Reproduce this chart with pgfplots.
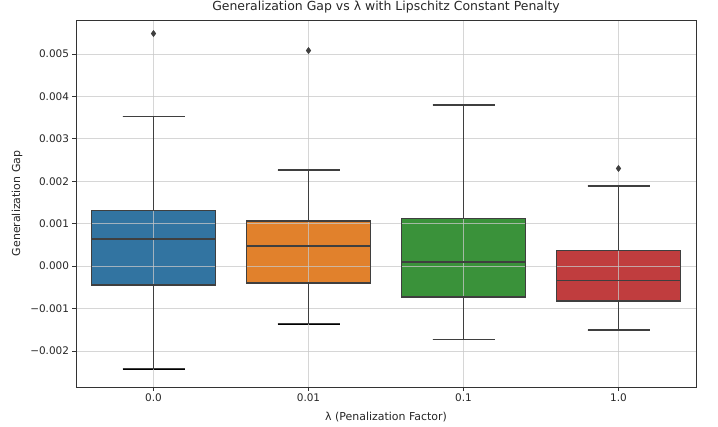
\documentclass[border=0pt]{standalone}
\usepackage{fontspec}
\setmainfont{DejaVu Sans}
\usepackage{pgfplots}
\pgfplotsset{compat=1.18}
\usepgfplotslibrary{statistics}

\definecolor{sbblue}{HTML}{3274A1}
\definecolor{sborange}{HTML}{E1812C}
\definecolor{sbgreen}{HTML}{3A923A}
\definecolor{sbred}{HTML}{C03D3E}
\definecolor{edge}{HTML}{3F3F3F}
\definecolor{gridc}{HTML}{C8C8C8}

% box statistics, in units of 1e-3
\pgfplotsset{
  bxA/.style={boxplot prepared={draw position=0,
    lower whisker=-2.42, lower quartile=-0.447,
    median=0.635, upper quartile=1.31, upper whisker=3.53}},
  bxB/.style={boxplot prepared={draw position=1,
    lower whisker=-1.36, lower quartile=-0.40,
    median=0.47, upper quartile=1.06, upper whisker=2.26}},
  bxC/.style={boxplot prepared={draw position=2,
    lower whisker=-1.73, lower quartile=-0.73,
    median=0.10, upper quartile=1.12, upper whisker=3.80}},
  bxD/.style={boxplot prepared={draw position=3,
    lower whisker=-1.51, lower quartile=-0.82,
    median=-0.34, upper quartile=0.37, upper whisker=1.89}},
  % fill below the grid, lines above it
  fillpass/.style={on layer=axis background, fill=#1, draw=none},
  linepass/.style={draw=edge, fill=none, line width=1.4bp,
    mark=diamond*, mark size=3bp, mark options={fill=edge, draw=edge, solid, line width=0.6bp}},
}

\begin{document}
\begin{tikzpicture}
\begin{axis}[
    set layers,
    at={(0,0)}, anchor=south west,
    scale only axis,
    width=620bp, height=367bp,
    xmin=-0.5, xmax=3.5,
    ymin=-2.85, ymax=5.80,
    xtick={0,1,2,3},
    xticklabels={0.0,0.01,0.1,1.0},
    ytick={-2,-1,0,1,2,3,4,5},
    yticklabels={−0.002,−0.001,0.000,0.001,0.002,0.003,0.004,0.005},
    tick label style={font=\fontsize{10.5}{12}\selectfont, text=black!85},
    label style={font=\fontsize{11}{13}\selectfont, text=black!85},
    xlabel={λ (Penalization Factor)},
    ylabel={Generalization Gap},
    title={Generalization Gap vs λ with Lipschitz Constant Penalty},
    title style={font=\fontsize{12.5}{15}\selectfont, text=black!85,
        at={(axis description cs:0.5,1)}, anchor=base, yshift=4bp},
    xlabel style={at={(axis description cs:0.5,0)}, anchor=center, yshift=-30bp},
    ylabel style={at={(axis description cs:0,0.5)}, anchor=center, yshift=59bp},
    xmajorgrids, ymajorgrids,
    grid style={gridc, line width=0.8bp, opacity=0.75},
    axis line style={black!80, line width=0.8bp},
    tick align=outside,
    major tick length=3.5bp,
    tick style={black!80, line width=0.8bp},
    xtick pos=bottom, ytick pos=left,
    boxplot/draw direction=y,
    boxplot/box extend=0.8,
    boxplot/whisker extend=0.4,
]
\addplot[fillpass=sbblue, bxA] coordinates {};
\addplot[fillpass=sborange, bxB] coordinates {};
\addplot[fillpass=sbgreen, bxC] coordinates {};
\addplot[fillpass=sbred, bxD] coordinates {};

\addplot[linepass, bxA] coordinates {(0,5.48)};
\addplot[linepass, bxB] coordinates {(1,5.08)};
\addplot[linepass, bxC] coordinates {};
\addplot[linepass, bxD] coordinates {(3,2.30)};
\end{axis}
\pgfresetboundingbox
\useasboundingbox (-76bp,-40bp) rectangle (642bp,387bp);
\end{tikzpicture}
\end{document}
